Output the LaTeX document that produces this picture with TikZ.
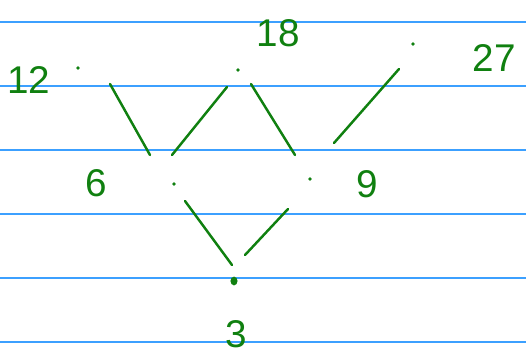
\documentclass[tikz,border=0pt]{standalone}
\usepackage{fontspec}
\setmainfont{Liberation Sans}
\usepackage{xcolor}
\usetikzlibrary{shapes.geometric}
\definecolor{ink}{RGB}{16,128,16}
\definecolor{rule}{RGB}{60,160,255}

\begin{document}
\begin{tikzpicture}[
    x=0.02cm, y=-0.02cm,
    ruleline/.style={draw=rule, line width=0.8pt},
    stroke/.style={draw=ink, line width=1.4pt, line cap=round},
    pt/.style={circle, fill=ink, inner sep=0pt, minimum size=2.2pt},
    bigpt/.style={ellipse, fill=ink, inner sep=0pt, minimum width=4pt, minimum height=5pt},
    num/.style={text=ink, font=\fontsize{22}{22}\selectfont, inner sep=0pt}
]
\useasboundingbox (0,0) rectangle (526,354);

% ruled paper
\foreach \yy in {22,86,150,214,278,342}
    \draw[ruleline] (0,\yy) -- (526,\yy);

% elements
\node[pt] (p12) at (78,68) {};
\node[pt] (p18) at (238,70) {};
\node[pt] (p27) at (413,44) {};
\node[pt] (p6) at (174,184) {};
\node[pt] (p9) at (310,179) {};
\node[bigpt] (p3) at (234,281) {};

\node[num] (n12) at (29,80) {12};
\node[num] (n18) at (278,33) {18};
\node[num] (n27) at (494,58) {27};
\node[num] (n6) at (96,183) {6};
\node[num] (n9) at (367,184) {9};
\node[num] (n3) at (236,334) {3};

% covering strokes
\coordinate (a1) at (110,84);  \coordinate (a2) at (150,155);
\coordinate (b1) at (227,87);  \coordinate (b2) at (172,155);
\coordinate (c1) at (251,84);  \coordinate (c2) at (295,155);
\coordinate (d1) at (399,69);  \coordinate (d2) at (334,143);
\coordinate (e1) at (185,201); \coordinate (e2) at (232,265);
\coordinate (f1) at (288,209); \coordinate (f2) at (245,255);

\draw[stroke] (a1) -- (a2);
\draw[stroke] (b1) -- (b2);
\draw[stroke] (c1) -- (c2);
\draw[stroke] (d1) -- (d2);
\draw[stroke] (e1) -- (e2);
\draw[stroke] (f1) -- (f2);
\end{tikzpicture}
\end{document}
